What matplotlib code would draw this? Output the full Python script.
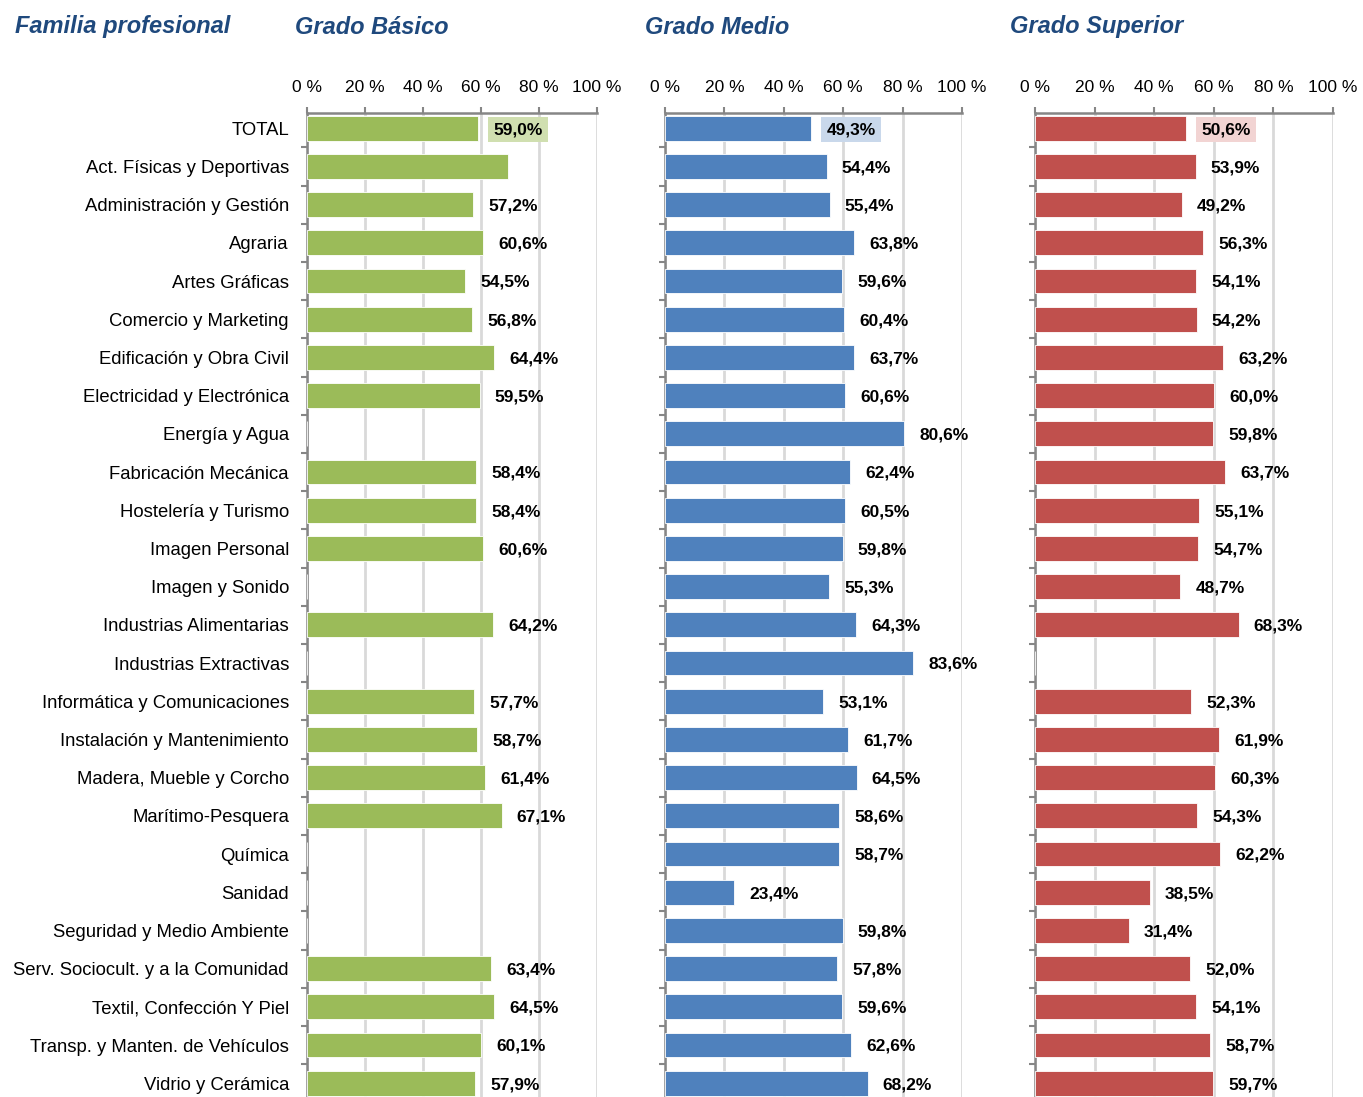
import numpy as np
import matplotlib
matplotlib.use("Agg")
import matplotlib.pyplot as plt
from matplotlib import font_manager

categories = ["TOTAL", "Act. Físicas y Deportivas", "Administración y Gestión", "Agraria",
              "Artes Gráficas", "Comercio y Marketing", "Edificación y Obra Civil",
              "Electricidad y Electrónica", "Energía y Agua", "Fabricación Mecánica",
              "Hostelería y Turismo", "Imagen Personal", "Imagen y Sonido",
              "Industrias Alimentarias", "Industrias Extractivas", "Informática y Comunicaciones",
              "Instalación y Mantenimiento", "Madera, Mueble y Corcho", "Marítimo-Pesquera",
              "Química", "Sanidad", "Seguridad y Medio Ambiente",
              "Serv. Sociocult. y a la Comunidad", "Textil, Confección Y Piel",
              "Transp. y Manten. de Vehículos", "Vidrio y Cerámica"]

nan = np.nan
basico = [59.0, 69.3, 57.2, 60.6, 54.5, 56.8, 64.4, 59.5, nan, 58.4, 58.4, 60.6, nan,
          64.2, nan, 57.7, 58.7, 61.4, 67.1, nan, nan, nan, 63.4, 64.5, 60.1, 57.9]
# Act. Físicas y Deportivas has a bar but no printed label in Grado Básico
basico_show_label = [True, False] + [True] * 24

medio = [49.3, 54.4, 55.4, 63.8, 59.6, 60.4, 63.7, 60.6, 80.6, 62.4, 60.5, 59.8, 55.3,
         64.3, 83.6, 53.1, 61.7, 64.5, 58.6, 58.7, 23.4, 59.8, 57.8, 59.6, 62.6, 68.2]

superior = [50.6, 53.9, 49.2, 56.3, 54.1, 54.2, 63.2, 60.0, 59.8, 63.7, 55.1, 54.7, 48.7,
            68.3, nan, 52.3, 61.9, 60.3, 54.3, 62.2, 38.5, 31.4, 52.0, 54.1, 58.7, 59.7]

titles = ["Grado Básico", "Grado Medio", "Grado Superior"]
xticks = [0, 20, 40, 60, 80, 100]
xticklabels = ["0 %", "20 %", "40 %", "60 %", "80 %", "100 %"]

avail = {f.name for f in font_manager.fontManager.ttflist}
narrow = "Liberation Sans Narrow" if "Liberation Sans Narrow" in avail else "Liberation Sans"

W, H = 1363, 1097
fig = plt.figure(figsize=(W / 100, H / 100), dpi=100)

title_color = "#1F497D"
bar_colors = ["#9BBB59", "#4F81BD", "#C0504D"]
box_colors = ["#D0DFB0", "#C9D8EB", "#F2D4D3"]
series = [basico, medio, superior]
shows = [basico_show_label, [True] * 26, [True] * 26]
ax_px = [(307, 290), (665, 297), (1035, 298)]

top_px = 113
row_px = 38.2
ylim_top, ylim_bot = -0.4, 25.5
h_px = row_px * (ylim_bot - ylim_top)
bottom_frac = (H - top_px - h_px) / H

n = len(categories)
ypos = np.arange(n)

for k in range(3):
    x0, w = ax_px[k]
    ax = fig.add_axes([x0 / W, bottom_frac, w / W, h_px / H])
    vals = np.array(series[k], dtype=float)
    ax.set_xlim(0, 100)
    ax.set_ylim(ylim_bot, ylim_top)
    ax.xaxis.grid(True, color="#D9D9D9", linewidth=2)
    ax.set_axisbelow(True)
    ax.barh(ypos, np.nan_to_num(vals), height=0.65, color=bar_colors[k],
            edgecolor="white", linewidth=0.6, zorder=3)
    for i, v in enumerate(vals):
        if np.isnan(v) or not shows[k][i]:
            continue
        txt = f"{v:.1f}%".replace(".", ",")
        kw = dict(xy=(v, i), xytext=(11, -1), textcoords="offset points",
                  ha="left", va="center", fontsize=12.5, fontweight="bold",
                  family=narrow, color="black", zorder=5)
        if i == 0:
            kw["bbox"] = dict(boxstyle="square,pad=0.3", fc=box_colors[k], ec="none")
        ax.annotate(txt, **kw)
    ax.xaxis.tick_top()
    ax.set_xticks(xticks)
    ax.set_xticklabels(xticklabels, family=narrow, fontsize=12.5)
    ax.tick_params(axis="x", length=4, color="#868686", width=1.5, pad=9)
    for s in ["right", "bottom"]:
        ax.spines[s].set_visible(False)
    for s in ["top", "left"]:
        ax.spines[s].set_color("#868686")
        ax.spines[s].set_linewidth(1.8)
    ax.set_yticks(ypos + 0.5, minor=False)
    ax.set_yticklabels([])
    ax.tick_params(axis="y", length=4, color="#868686", width=1.5)
    if k == 0:
        for i, c in enumerate(categories):
            ax.annotate(c, xy=(0, i), xytext=(-13, -1.5), textcoords="offset points",
                        ha="right", va="center", fontsize=13.3, family=narrow,
                        color="black", annotation_clip=False)

fig.text(15 / W, 1 - 27 / H, "Familia profesional", ha="left", va="center",
         fontsize=17, fontweight="bold", fontstyle="italic", color=title_color,
         family="Liberation Sans")
for k, (xp, t) in enumerate(zip([295, 645, 1010], titles)):
    fig.text(xp / W, 1 - 27 / H, t, ha="left", va="center", fontsize=17,
             fontweight="bold", fontstyle="italic", color=title_color,
             family="Liberation Sans")

fig.savefig("out.png", dpi=100)
